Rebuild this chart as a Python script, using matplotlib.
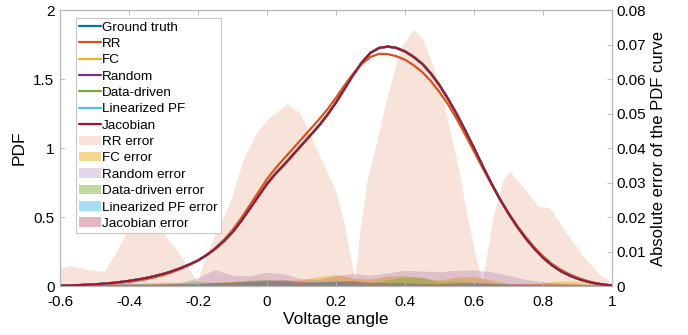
import numpy as np
import matplotlib
matplotlib.use("Agg")
import matplotlib.pyplot as plt
from matplotlib.patches import Patch
from matplotlib.lines import Line2D

plt.rcParams['font.family'] = ['Liberation Sans', 'DejaVu Sans']

# ---------------- data ----------------
x_pdf = [-0.6, -0.575, -0.55, -0.525, -0.5, -0.475, -0.45, -0.425, -0.4, -0.375,
         -0.35, -0.325, -0.3, -0.275, -0.25, -0.225, -0.2, -0.175, -0.15, -0.125,
         -0.1, -0.075, -0.05, -0.025, 0.0, 0.025, 0.05, 0.075, 0.1, 0.125,
         0.15, 0.175, 0.2, 0.225, 0.25, 0.275, 0.3, 0.325, 0.35, 0.375,
         0.4, 0.425, 0.45, 0.475, 0.5, 0.525, 0.55, 0.575, 0.6, 0.625,
         0.65, 0.675, 0.7, 0.725, 0.75, 0.775, 0.8, 0.825, 0.85, 0.875,
         0.9, 0.925, 0.95, 0.975, 1.0]

pdf_truth = [0.003, 0.004, 0.006, 0.009, 0.012, 0.017, 0.022, 0.029, 0.037, 0.047,
             0.058, 0.072, 0.088, 0.107, 0.130, 0.156, 0.185, 0.224, 0.270, 0.325,
             0.390, 0.470, 0.560, 0.650, 0.740, 0.815, 0.880, 0.950, 1.020, 1.090,
             1.160, 1.240, 1.330, 1.430, 1.530, 1.620, 1.690, 1.725, 1.735, 1.725,
             1.700, 1.660, 1.610, 1.540, 1.455, 1.355, 1.245, 1.125, 1.000, 0.870,
             0.745, 0.630, 0.525, 0.430, 0.345, 0.270, 0.205, 0.152, 0.110, 0.078,
             0.053, 0.034, 0.020, 0.010, 0.004]

pdf_rr = [0.002, 0.003, 0.004, 0.006, 0.009, 0.013, 0.017, 0.023, 0.030, 0.039,
          0.050, 0.064, 0.080, 0.100, 0.124, 0.152, 0.185, 0.226, 0.275, 0.335,
          0.405, 0.490, 0.585, 0.680, 0.775, 0.855, 0.925, 0.995, 1.065, 1.135,
          1.205, 1.280, 1.365, 1.455, 1.540, 1.610, 1.660, 1.683, 1.680, 1.665,
          1.640, 1.600, 1.550, 1.485, 1.405, 1.315, 1.210, 1.095, 0.975, 0.855,
          0.740, 0.630, 0.530, 0.437, 0.355, 0.280, 0.215, 0.162, 0.120, 0.087,
          0.060, 0.039, 0.023, 0.012, 0.005]

pdf_fc = pdf_truth
pdf_random = pdf_truth
pdf_datadriven = pdf_truth
pdf_linpf = pdf_truth
pdf_jacobian = pdf_truth

x_rr_err = [-0.6, -0.57, -0.52, -0.47, -0.435, -0.40, -0.37, -0.34, -0.31, -0.29,
            -0.257, -0.232, -0.208, -0.2, -0.188, -0.169, -0.15, -0.106, -0.068, -0.029,
            0.01, 0.038, 0.06, 0.097, 0.125, 0.154, 0.179, 0.203, 0.227, 0.256,
            0.27, 0.29, 0.31, 0.348, 0.386, 0.425, 0.45, 0.483, 0.512, 0.531,
            0.555, 0.58, 0.604, 0.625, 0.657, 0.686, 0.705, 0.734, 0.787, 0.821,
            0.869, 0.918, 0.966, 1.0]
rr_err = [0.0050, 0.0058, 0.0046, 0.0041, 0.0099, 0.0167, 0.0200, 0.0210, 0.0180, 0.0138,
          0.0099, 0.0061, 0.0022, 0.0008, 0.0051, 0.0099, 0.0148, 0.0240, 0.0365, 0.0443,
          0.0490, 0.0510, 0.0527, 0.0500, 0.0443, 0.0375, 0.0322, 0.0269, 0.0172, 0.0015,
          0.0153, 0.0298, 0.0380, 0.0540, 0.0684, 0.0742, 0.0720, 0.0636, 0.0539, 0.0452,
          0.0346, 0.0210, 0.0095, 0.0012, 0.0200, 0.0307, 0.0331, 0.0298, 0.0230, 0.0225,
          0.0153, 0.0085, 0.0032, 0.0008]

x_err = [-0.6, -0.55, -0.5, -0.45, -0.4, -0.35, -0.3, -0.25, -0.2, -0.15, -0.1,
         -0.05, 0.0, 0.05, 0.1, 0.15, 0.2, 0.25, 0.3, 0.35, 0.4, 0.45,
         0.5, 0.55, 0.6, 0.65, 0.7, 0.75, 0.8, 0.85, 0.9, 0.95, 1.0]
fc_err = [0, 0, 0.0001, 0.0002, 0.0003, 0.0003, 0.0002, 0.0003, 0.0006, 0.0010, 0.0012,
          0.0016, 0.0018, 0.0014, 0.0016, 0.0026, 0.0032, 0.0022, 0.0018, 0.0027, 0.0029, 0.0022,
          0.0016, 0.0024, 0.0026, 0.0016, 0.0006, 0.0004, 0.0008, 0.0013, 0.0012, 0.0005, 0.0001]
random_err = [0.0003, 0.0003, 0.0004, 0.0005, 0.0006, 0.0008, 0.0010, 0.0008, 0.0022, 0.0046, 0.0030,
              0.0028, 0.0038, 0.0034, 0.0020, 0.0018, 0.0028, 0.0035, 0.0030, 0.0036, 0.0044, 0.0042,
              0.0040, 0.0044, 0.0045, 0.0040, 0.0030, 0.0018, 0.0010, 0.0007, 0.0005, 0.0003, 0.0001]
datadriven_err = [0.0002, 0.0002, 0.0003, 0.0004, 0.0004, 0.0005, 0.0006, 0.0009, 0.0012, 0.0008, 0.0010,
                  0.0014, 0.0016, 0.0010, 0.0008, 0.0010, 0.0014, 0.0012, 0.0006, 0.0016, 0.0025, 0.0024,
                  0.0010, 0.0012, 0.0009, 0.0007, 0.0004, 0.0003, 0.0002, 0.0003, 0.0002, 0.0001, 0.0001]
linpf_err = [0.0001, 0.0001, 0.0002, 0.0003, 0.0004, 0.0003, 0.0002, 0.0004, 0.0006, 0.0008, 0.0006,
             0.0012, 0.0017, 0.0012, 0.0008, 0.0012, 0.0013, 0.0008, 0.0004, 0.0005, 0.0006, 0.0004,
             0.0003, 0.0005, 0.0006, 0.0005, 0.0004, 0.0003, 0.0002, 0.0002, 0.0001, 0.0001, 0.0]
jacobian_err = [0.0002, 0.0002, 0.0003, 0.0004, 0.0005, 0.0004, 0.0005, 0.0006, 0.0005, 0.0008, 0.0010,
                0.0012, 0.0014, 0.0017, 0.0012, 0.0010, 0.0012, 0.0014, 0.0010, 0.0008, 0.0008, 0.0006,
                0.0005, 0.0007, 0.0008, 0.0006, 0.0005, 0.0006, 0.0005, 0.0004, 0.0003, 0.0002, 0.0001]

x_ticks = [-0.6, -0.4, -0.2, 0, 0.2, 0.4, 0.6, 0.8, 1]
x_ticklabels = ['-0.6', '-0.4', '-0.2', '0', '0.2', '0.4', '0.6', '0.8', '1']
y_ticks = [0, 0.5, 1, 1.5, 2]
y_ticklabels = ['0', '0.5', '1', '1.5', '2']
y2_ticks = [0, 0.01, 0.02, 0.03, 0.04, 0.05, 0.06, 0.07, 0.08]
y2_ticklabels = ['0', '0.01', '0.02', '0.03', '0.04', '0.05', '0.06', '0.07', '0.08']

# ---------------- style ----------------
c_blue = (0.000, 0.447, 0.741)
c_orange = (0.850, 0.325, 0.098)
c_yellow = (0.929, 0.694, 0.125)
c_purple = (0.494, 0.184, 0.556)
c_green = (0.466, 0.674, 0.188)
c_cyan = (0.301, 0.745, 0.933)
c_red = (0.635, 0.078, 0.184)
spine_c = '#b5b5b5'

fig = plt.figure(figsize=(6.88, 3.35), dpi=100)
ax = fig.add_axes([60 / 688, 1 - 286 / 335, 552 / 688, 276 / 335])
ax2 = ax.twinx()
ax.set_zorder(ax2.get_zorder() + 1)
ax.patch.set_visible(False)

# error fills (right axis)
fills = [
    (x_rr_err, rr_err, c_orange, 0.16, 'RR error'),
    (x_err, fc_err, c_yellow, 0.5, 'FC error'),
    (x_err, random_err, c_purple, 0.2, 'Random error'),
    (x_err, datadriven_err, c_green, 0.45, 'Data-driven error'),
    (x_err, linpf_err, c_cyan, 0.5, 'Linearized PF error'),
    (x_err, jacobian_err, c_red, 0.3, 'Jacobian error'),
]
fill_handles = []
for xs, ys, col, a, lab in fills:
    ax2.fill_between(xs, 0, ys, facecolor=col, alpha=a, linewidth=0)
    fill_handles.append(Patch(facecolor=col, alpha=a, edgecolor='none', label=lab))

# PDF curves (left axis)
lines = [
    (pdf_truth, c_blue, 'Ground truth'),
    (pdf_rr, c_orange, 'RR'),
    (pdf_fc, c_yellow, 'FC'),
    (pdf_random, c_purple, 'Random'),
    (pdf_datadriven, c_green, 'Data-driven'),
    (pdf_linpf, c_cyan, 'Linearized PF'),
    (pdf_jacobian, c_red, 'Jacobian'),
]
line_handles = []
for ys, col, lab in lines:
    h, = ax.plot(x_pdf, ys, color=col, lw=1.6, label=lab, solid_capstyle='round')
    line_handles.append(h)

ax.set_xlim(-0.6, 1)
ax.set_ylim(0, 2)
ax2.set_ylim(0, 0.08)
ax.set_xticks(x_ticks)
ax.set_xticklabels(x_ticklabels)
ax.set_yticks(y_ticks)
ax.set_yticklabels(y_ticklabels)
ax2.set_yticks(y2_ticks)
ax2.set_yticklabels(y2_ticklabels)

for a in (ax, ax2):
    for s in a.spines.values():
        s.set_color(spine_c)
        s.set_linewidth(0.8)
ax.tick_params(axis='x', direction='in', top=True, length=3.5, width=0.6,
               color=spine_c, labelsize=11, labelcolor='black', pad=6.5)
ax.tick_params(axis='y', direction='in', length=3.5, width=0.6,
               color=spine_c, labelsize=11, labelcolor='black', pad=4)
ax2.tick_params(axis='y', direction='in', length=3.5, width=0.6,
                color=spine_c, labelsize=11, labelcolor='black', pad=3)

ax.set_xlabel('Voltage angle', fontsize=12.5, labelpad=2)
ax.set_ylabel('PDF', fontsize=12.5, labelpad=5)
ax2.set_ylabel('Absolute error of the PDF curve', fontsize=12, labelpad=4)

leg = ax.legend(handles=line_handles + fill_handles, loc='upper left',
                bbox_to_anchor=(16 / 552, 1 - 8 / 276), borderaxespad=0,
                fontsize=9.7, labelspacing=0.29, handlelength=1.6,
                handletextpad=0.1, borderpad=0.25, fancybox=False,
                framealpha=1, edgecolor='#c8c8c8')
leg.get_frame().set_linewidth(0.8)

fig.savefig('out.png', dpi=100)
